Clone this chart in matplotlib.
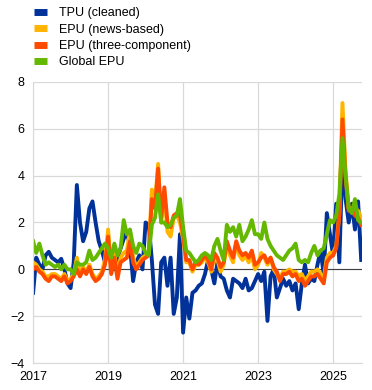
import numpy as np
import matplotlib.pyplot as plt
from matplotlib.lines import Line2D

plt.rcParams['font.family'] = ['Liberation Sans', 'DejaVu Sans']

# monthly data, Jan 2017 - Oct 2025
tpu = [
    -1.0, 0.5, 0.2, 0.0, 0.6, 0.75, 0.5, 0.4, 0.3, 0.45, 0.0, -0.6,
    -0.8, 0.3, 3.6, 2.0, 1.2, 1.6, 2.6, 2.9, 2.0, 1.2, 0.8, 0.3,
    0.9, 0.2, 0.0, 0.5, 0.9, 1.3, 1.6, 1.0, -0.5, 0.3, 0.6, 0.0,
    2.0, 1.9, 0.4, -1.5, -1.9, 0.3, 0.5, -0.7, 0.5, -1.9, -1.2, 1.5,
    -2.7, -1.2, -2.1, -1.0, -0.9, -0.7, -0.6, -0.2, 0.4, 0.0, -0.6, 0.3,
    -0.3, -0.4, -0.9, -1.2, -0.4, -0.5, -0.6, -0.8, -0.4, -0.9, -0.8, -0.5,
    -0.2, -0.5, -0.1, -2.2, -0.3, 0.0, -1.2, -0.8, -0.4, -0.7, -0.5, -0.9,
    -0.6, -1.7, -0.6, 0.2, -0.6, -0.4, -0.5, 0.2, 0.8, -0.2, 2.4, 1.5,
    0.6, 2.8, 0.3, 4.7, 3.0, 2.0, 2.8, 1.7, 2.9, 0.4,
]
epu_news = [
    0.3, 0.2, 0.0, -0.1, -0.3, -0.3, -0.2, -0.2, -0.3, -0.4, -0.2, -0.5,
    -0.4, -0.2, 0.5, -0.2, 0.1, -0.1, 0.2, -0.2, -0.4, -0.3, -0.1, 0.4,
    1.7, 0.0, 0.7, -0.2, 0.5, 0.7, 0.8, 1.6, 0.5, 0.1, 0.3, 0.5,
    0.6, 0.8, 3.4, 2.8, 4.5, 2.0, 3.2, 1.6, 1.4, 2.2, 2.3, 2.0,
    1.3, 0.3, 0.3, -0.1, 0.2, 0.2, 0.3, 0.5, 0.3, -0.1, 0.6, 0.4,
    -0.1, 0.2, 1.1, 0.6, 0.3, 1.1, 0.6, 0.4, 0.6, 0.3, 0.6, 0.0,
    0.2, 0.7, 0.5, 0.2, 0.5, 0.0, -0.2, -0.4, -0.1, -0.1, 0.0, -0.1,
    -0.1, -0.3, -0.2, -0.5, -0.3, -0.1, -0.1, 0.0, -0.2, -0.4, 0.5, 0.7,
    0.7, 1.0, 2.4, 7.1, 4.2, 2.6, 2.6, 2.6, 2.5, 2.2,
]
epu_three = [
    0.0, 0.1, -0.1, -0.2, -0.4, -0.5, -0.3, -0.3, -0.4, -0.5, -0.3, -0.6,
    -0.5, -0.3, 0.0, -0.3, 0.0, -0.2, 0.1, -0.3, -0.5, -0.4, -0.2, 0.2,
    1.4, -0.2, 0.5, -0.4, 0.3, 0.4, 0.5, 1.2, 0.3, 0.0, 0.2, 0.4,
    0.5, 0.6, 3.0, 2.6, 4.3, 2.2, 3.5, 2.0, 1.8, 2.3, 2.4, 2.3,
    1.5, 0.4, 0.4, 0.0, 0.3, 0.2, 0.4, 0.6, 0.4, 0.0, 0.7, 0.5,
    0.1, 0.3, 1.2, 0.8, 0.5, 1.2, 0.8, 0.6, 0.7, 0.5, 0.8, 0.2,
    0.3, 0.5, 0.6, 0.3, 0.5, 0.1, -0.1, -0.5, -0.2, -0.2, -0.1, -0.3,
    -0.2, -0.5, -0.4, -0.7, -0.5, -0.3, -0.3, -0.2, -0.4, -0.6, 0.3, 0.5,
    0.6, 0.9, 2.3, 6.4, 3.9, 2.5, 2.5, 2.3, 2.2, 1.9,
]
global_epu = [
    1.2, 0.7, 1.1, 0.6, 0.2, 0.3, 0.2, 0.1, 0.2, 0.0, 0.2, 0.0,
    0.0, -0.2, 0.3, 0.2, 0.2, 0.3, 0.8, 0.4, 0.5, 0.7, 0.9, 1.1,
    0.9, 0.5, 1.1, 0.6, 0.9, 2.1, 1.5, 1.7, 1.0, 0.7, 1.1, 1.0,
    0.7, 0.6, 1.9, 2.2, 3.2, 2.0, 2.0, 1.8, 1.9, 2.2, 2.3, 3.0,
    1.8, 0.8, 0.7, 0.5, 0.3, 0.4, 0.6, 0.7, 0.6, 0.4, 1.0, 1.3,
    0.8, 0.4, 1.9, 1.6, 1.8, 1.4, 1.9, 1.2, 1.4, 1.7, 2.1, 1.5,
    1.5, 1.3, 2.0, 1.3, 1.0, 0.8, 0.6, 0.5, 0.4, 0.6, 0.8, 0.9,
    1.1, 0.4, 0.3, 0.4, 0.3, 0.7, 1.0, 0.6, 0.8, 0.9, 1.5, 2.1,
    2.0, 2.3, 3.2, 5.6, 4.0, 2.6, 2.4, 3.0, 2.1, 2.0,
]

series = [
    ('TPU (cleaned)', tpu, '#003299'),
    ('EPU (news-based)', epu_news, '#ffb400'),
    ('EPU (three-component)', epu_three, '#ff4b00'),
    ('Global EPU', global_epu, '#65b800'),
]

dates = 2017 + np.arange(len(tpu)) / 12

fig = plt.figure(figsize=(3.72, 3.90), dpi=100)
ax = fig.add_axes([0.089, 0.069, 0.884, 0.721])

for label, vals, col in series:
    ax.plot(dates, vals, color=col, lw=2.8, solid_joinstyle='round')

ax.axhline(0, color='#404040', lw=0.8, zorder=1)

ax.set_xlim(2017, 2025.77)
ax.set_ylim(-4, 8)
ax.set_xticks([2017, 2019, 2021, 2023, 2025])
ax.set_yticks(range(-4, 9, 2))
ax.grid(True, color='#d9d9d9', lw=0.9)
ax.set_axisbelow(True)
ax.tick_params(length=0, labelsize=9, pad=6)
for s in ['top', 'right']:
    ax.spines[s].set_visible(False)
for s in ['left', 'bottom']:
    ax.spines[s].set_color('#d9d9d9')

handles = [Line2D([], [], color=c, lw=5, solid_capstyle='butt') for _, _, c in series]
fig.legend(handles, [s[0] for s in series], loc='upper left',
           bbox_to_anchor=(0.06, 1.01), frameon=False, fontsize=9,
           handlelength=1.1, handletextpad=0.9, labelspacing=0.35)

fig.savefig('out.png', dpi=100)
